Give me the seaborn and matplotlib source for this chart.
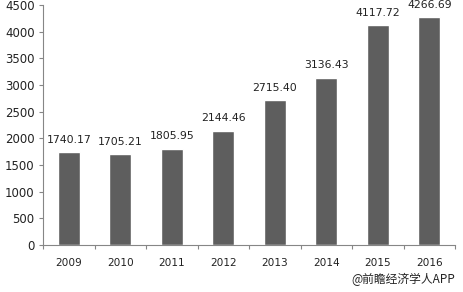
import matplotlib
matplotlib.use("Agg")
import matplotlib.pyplot as plt
import seaborn as sns
import pandas as pd

years = ["2009", "2010", "2011", "2012", "2013", "2014", "2015", "2016"]
values = [1740.17, 1705.21, 1805.95, 2144.46, 2715.40, 3136.43, 4117.72, 4266.69]
yticks = [0, 500, 1000, 1500, 2000, 2500, 3000, 3500, 4000, 4500]

sns.set_style("white")
plt.rcParams['font.family'] = ['DejaVu Sans', 'Noto Sans CJK SC']

df = pd.DataFrame({"year": years, "value": values})

fig = plt.figure(figsize=(4.63, 2.92), dpi=100)
ax = fig.add_axes([43/463, 1 - 245/292, (455-43)/463, 240/292])
sns.barplot(data=df, x="year", y="value", color="#5e5e5e", width=0.43,
            saturation=1, ax=ax)

ax.set_ylim(0, 4500)
ax.set_xlim(-0.5, len(years) - 0.5)
ax.set_yticks(yticks)
ax.set_yticklabels([str(t) for t in yticks], fontsize=8.5, color="#222222")
ax.set_xlabel("")
ax.set_ylabel("")
ax.tick_params(axis='x', length=0, labelsize=7.6, labelcolor="#222222", pad=9)
ax.tick_params(axis='y', length=3, width=0.8, color="#868686", pad=3, left=True)

# minor ticks between categories
ax.set_xticks([i - 0.5 for i in range(len(years) + 1)], minor=True)
ax.tick_params(axis='x', which='minor', length=3, width=0.8, color="#868686", bottom=True)

for s in ["top", "right"]:
    ax.spines[s].set_visible(False)
for s in ["left", "bottom"]:
    ax.spines[s].set_color("#868686")
    ax.spines[s].set_linewidth(0.8)

for i, v in enumerate(values):
    ax.text(i, v + 140, f"{v:.2f}", ha="center", va="bottom", fontsize=7.8, color="#222222")

fig.text(0.983, 0.02, "@前瞻经济学人APP", ha="right", va="bottom", fontsize=8.5,
         color="#222222", family=['Noto Sans CJK SC', 'DejaVu Sans'])

fig.savefig("out.png", dpi=100)
